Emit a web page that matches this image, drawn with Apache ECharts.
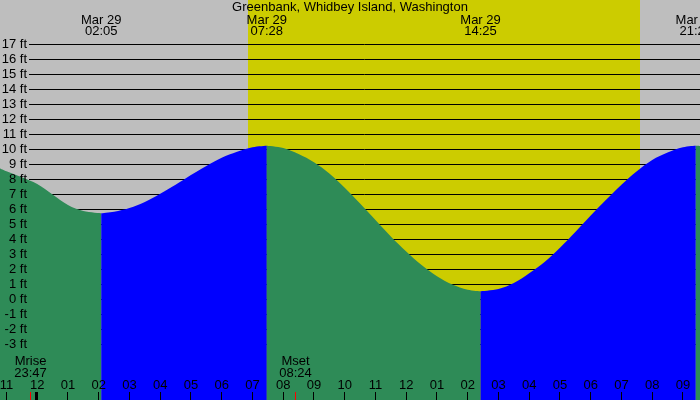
<!DOCTYPE html>
<html><head><meta charset="utf-8">
<script src="https://cdn.jsdelivr.net/npm/echarts@6/dist/echarts.min.js"></script>
<style>html,body{margin:0;padding:0;background:#bebebe}#c{width:700px;height:400px}</style>
</head><body><div id="c"></div>
<script>
// ---- data ----
const chartTitle = 'Greenbank, Whidbey Island, Washington';
// hours after midnight of Mar 29 (negative = Mar 28)
const tideHours = [-1.21, -1, -0.5, 0, 0.5, 1, 1.5, 2.083,
  2.5, 3, 3.5, 4, 4.5, 5, 5.5, 6, 6.5, 7, 7.467,
  8, 8.5, 9, 9.5, 10, 10.5, 11, 11.5, 12, 12.5, 13, 13.5, 14, 14.417,
  15, 15.5, 16, 16.5, 17, 17.5, 18, 18.5, 19, 19.5, 20, 20.5, 21, 21.417, 21.554];
const tideFeet = [8.74, 8.55, 8.15, 7.7, 7.0, 6.3, 5.9, 5.75,
  5.85, 6.1, 6.5, 7.05, 7.65, 8.3, 8.9, 9.45, 9.85, 10.15, 10.25,
  10.1, 9.7, 9.15, 8.4, 7.45, 6.4, 5.3, 4.2, 3.2, 2.3, 1.55, 1.0, 0.65, 0.55,
  0.7, 1.1, 1.75, 2.5, 3.45, 4.5, 5.6, 6.65, 7.65, 8.55, 9.3, 9.8, 10.15, 10.25, 10.24];
const extremeHours = [2.083, 7.467, 14.417, 21.417];
const extremeDates = ['Mar 29', 'Mar 29', 'Mar 29', 'Mar 29'];
const extremeTimes = ['02:05', '07:28', '14:25', '21:25'];
const hourTicks = [-1,0,1,2,3,4,5,6,7,8,9,10,11,12,13,14,15,16,17,18,19,20,21];
const hourLabels = ['11','12','01','02','03','04','05','06','07','08','09','10','11','12','01','02','03','04','05','06','07','08','09'];
const midnightHours = [0];
const ftLevels = [-3,-2,-1,0,1,2,3,4,5,6,7,8,9,10,11,12,13,14,15,16,17];
const ftLabels = ftLevels.map(v => v + ' ft');
const daylight = [6.855, 19.6];   // sunrise 06:51, sunset 19:36
const moonHours = [-0.217, 8.4];
const moonNames = ['Mrise', 'Mset'];
const moonTimes = ['23:47', '08:24'];

// ---- styling ----
const X_MIN = -1.2098, X_MAX = 21.554;
const Y_MIN = -6.7, Y_MAX = 19.967;
const FONT = '13px "Liberation Sans", Arial, sans-serif';
const GREEN = '#2e8b57', BLUE = '#0000ff', YELLOW = '#cccc00', GRAY = '#bebebe';

// split tide into falling (green) / rising (blue) segments at extremes
const bounds = [tideHours[0]].concat(extremeHours).concat([tideHours[tideHours.length-1]]);
const tideSeries = [];
for (let i = 0; i < bounds.length - 1; i++) {
  const a = bounds[i], b = bounds[i+1];
  const pts = [];
  tideHours.forEach((h, k) => { if (h >= a - 1e-6 && h <= b + 1e-6) pts.push([h, tideFeet[k]]); });
  if (pts.length < 2) continue;
  const falling = pts[pts.length-1][1] < pts[0][1];
  const col = falling ? GREEN : BLUE;
  tideSeries.push({
    type: 'line', data: pts, z: 3, smooth: 0.35, showSymbol: false, silent: true,
    lineStyle: { width: 0, opacity: 0 }, itemStyle: { color: col },
    areaStyle: { color: col, opacity: 1, origin: 'start' }, animation: false
  });
}

const chart = echarts.init(document.getElementById('c'), null, { renderer: 'canvas' });
chart.setOption({
  backgroundColor: GRAY,
  animation: false,
  grid: { left: 0, right: 0, top: 0, bottom: 0 },
  xAxis: { type: 'value', min: X_MIN, max: X_MAX, show: false },
  yAxis: { type: 'value', min: Y_MIN, max: Y_MAX, show: false },
  graphic: [{
    type: 'text', left: 'center', top: 1, z: 100,
    style: { text: chartTitle, font: FONT, fill: '#000' }
  }],
  series: [
    { // daylight band
      type: 'custom', z: 1, silent: true, data: [[daylight[0], daylight[1]]],
      renderItem: (params, api) => {
        const p0 = api.coord([api.value(0), Y_MAX]);
        const p1 = api.coord([api.value(1), Y_MIN]);
        return { type: 'rect', shape: { x: Math.round(p0[0]), y: p0[1], width: Math.round(p1[0]) - Math.round(p0[0]), height: p1[1] - p0[1] }, style: { fill: YELLOW } };
      }
    },
    { // horizontal feet lines
      type: 'custom', z: 2, silent: true, data: ftLevels.map(v => [X_MIN, v]),
      renderItem: (params, api) => {
        const cs = params.coordSys;
        const y = api.coord([X_MIN, api.value(1)])[1];
        return { type: 'line', shape: { x1: cs.x + 29, y1: y, x2: cs.x + cs.width, y2: y }, style: { stroke: '#000', lineWidth: 1 } };
      }
    },
    ...tideSeries,
    { // feet labels, drawn over the tide
      type: 'custom', z: 6, silent: true, data: ftLevels.map(v => [X_MIN, v]),
      renderItem: (params, api) => {
        const cs = params.coordSys;
        const y = api.coord([X_MIN, api.value(1)])[1];
        return { type: 'text', style: { text: ftLabels[params.dataIndex], x: cs.x + 27, y: y, align: 'right', verticalAlign: 'middle', font: FONT, fill: '#000' } };
      }
    },
    { // hour ticks + labels
      type: 'custom', z: 4, silent: true, data: hourTicks.map(h => [h, Y_MIN]),
      renderItem: (params, api) => {
        const p = api.coord([api.value(0), Y_MIN]);
        const x = Math.floor(p[0]) + 0.5;
        const thick = midnightHours.indexOf(api.value(0)) >= 0;
        return { type: 'group', children: [
          { type: 'line', shape: { x1: thick ? x - 1 : x, y1: p[1] - 8, x2: thick ? x - 1 : x, y2: p[1] }, style: { stroke: '#000', lineWidth: thick ? 3 : 1 } },
          { type: 'text', style: { text: hourLabels[params.dataIndex], x: p[0], y: p[1] - 14.5, align: 'center', verticalAlign: 'middle', font: FONT, fill: '#000' } }
        ]};
      }
    },
    { // moon rise/set
      type: 'custom', z: 5, silent: true, data: moonHours.map(h => [h, Y_MIN]),
      renderItem: (params, api) => {
        const p = api.coord([api.value(0), Y_MIN]);
        const x = Math.floor(p[0]) + 0.5;
        const i = params.dataIndex;
        return { type: 'group', children: [
          { type: 'line', shape: { x1: x, y1: p[1] - 8, x2: x, y2: p[1] }, style: { stroke: '#ff0000', lineWidth: 1 } },
          { type: 'text', style: { text: moonNames[i], x: p[0], y: p[1] - 38.3, align: 'center', verticalAlign: 'middle', font: FONT, fill: '#000' } },
          { type: 'text', style: { text: moonTimes[i], x: p[0], y: p[1] - 26.7, align: 'center', verticalAlign: 'middle', font: FONT, fill: '#000' } }
        ]};
      }
    },
    { // extreme labels at top
      type: 'custom', z: 5, silent: true, data: extremeHours.map(h => [h, Y_MAX]),
      renderItem: (params, api) => {
        const p = api.coord([api.value(0), Y_MAX]);
        const i = params.dataIndex;
        return { type: 'group', children: [
          { type: 'text', style: { text: extremeDates[i], x: p[0], y: p[1] + 20, align: 'center', verticalAlign: 'middle', font: FONT, fill: '#000' } },
          { type: 'text', style: { text: extremeTimes[i], x: p[0], y: p[1] + 31.7, align: 'center', verticalAlign: 'middle', font: FONT, fill: '#000' } }
        ]};
      }
    }
  ]
});
</script></body></html>
